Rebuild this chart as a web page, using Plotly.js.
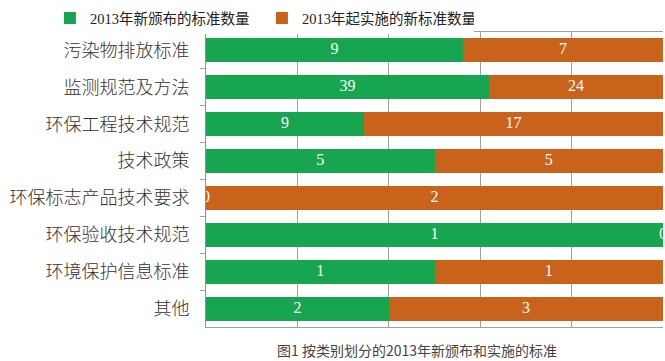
<!DOCTYPE html>
<html><head><meta charset="utf-8">
<script src="https://cdn.plot.ly/plotly-3.0.1.min.js"></script>
<style>html,body{margin:0;padding:0;background:#fff;}#chart{width:665px;height:361px;}</style>
</head><body><div id="chart"></div>
<script>
const categories = ["污染物排放标准","监测规范及方法","环保工程技术规范","技术政策","环保标志产品技术要求","环保验收技术规范","环境保护信息标准","其他"];
const newIssued = [9, 39, 9, 5, 0, 1, 1, 2];
const newImplemented = [7, 24, 17, 5, 2, 0, 1, 3];
const seriesNames = ["2013年新颁布的标准数量","2013年起实施的新标准数量"];
const caption = "图1 按类别划分的2013年新颁布和实施的标准";
const xTicks = [0, 20, 40, 60, 80, 100];

const green = "#17a550", orange = "#c9621a";
const totals = newIssued.map((v,i)=>v+newImplemented[i]);
const midA = newIssued.map((v,i)=>100*(v/2)/totals[i]);
const midB = newImplemented.map((v,i)=>100*(newIssued[i]+v/2)/totals[i]);
const labelFont = {family:"Liberation Serif, serif", size:16, color:"#ffffff"};

const traces = [
  {type:"bar", orientation:"h", y:categories, x:newIssued, name:seriesNames[0], marker:{color:green}, hoverinfo:"skip"},
  {type:"bar", orientation:"h", y:categories, x:newImplemented, name:seriesNames[1], marker:{color:orange}, hoverinfo:"skip"},
  {type:"scatter", mode:"text", y:categories, x:midA, text:newIssued.map(String), textfont:labelFont, showlegend:false, cliponaxis:true, hoverinfo:"skip"},
  {type:"scatter", mode:"text", y:categories, x:midB, text:newImplemented.map(String), textfont:labelFont, showlegend:false, cliponaxis:true, hoverinfo:"skip"}
];

const layout = {
  width:665, height:361,
  margin:{l:206, r:2, t:28, b:34},
  paper_bgcolor:"#fff", plot_bgcolor:"#fff",
  barmode:"stack", barnorm:"percent", bargap:0.35,
  xaxis:{range:[0,100], tickvals:xTicks, showticklabels:false, showgrid:true, gridcolor:"#a0a0a0", gridwidth:1,
         zeroline:false, showline:true, linecolor:"#a0a0a0", mirror:"ticks", ticks:"inside", ticklen:5, tickcolor:"#a0a0a0"},
  yaxis:{autorange:"reversed", showline:true, linecolor:"#909090", ticks:"outside", tickson:"boundaries", ticklen:5, tickcolor:"#a0a0a0",
         showgrid:false, ticklabelstandoff:12, tickfont:{family:"Noto Sans CJK SC", size:18, color:"#333", weight:300}},
  showlegend:true,
  legend:{orientation:"h", x:-0.3415, xanchor:"left", y:1.047, yanchor:"middle",
          font:{family:"Liberation Serif, Noto Sans CJK SC", size:14.5, color:"#222"}, itemwidth:30, entrywidth:167, traceorder:"normal"},
  annotations:[{text:caption, xref:"paper", yref:"paper", x:0.462, xanchor:"center", y:-0.077, yanchor:"middle",
               showarrow:false, font:{family:"Noto Sans CJK SC", size:14, color:"#444"}}]
};
Plotly.newPlot("chart", traces, layout, {displayModeBar:false, staticPlot:true});
</script></body></html>
